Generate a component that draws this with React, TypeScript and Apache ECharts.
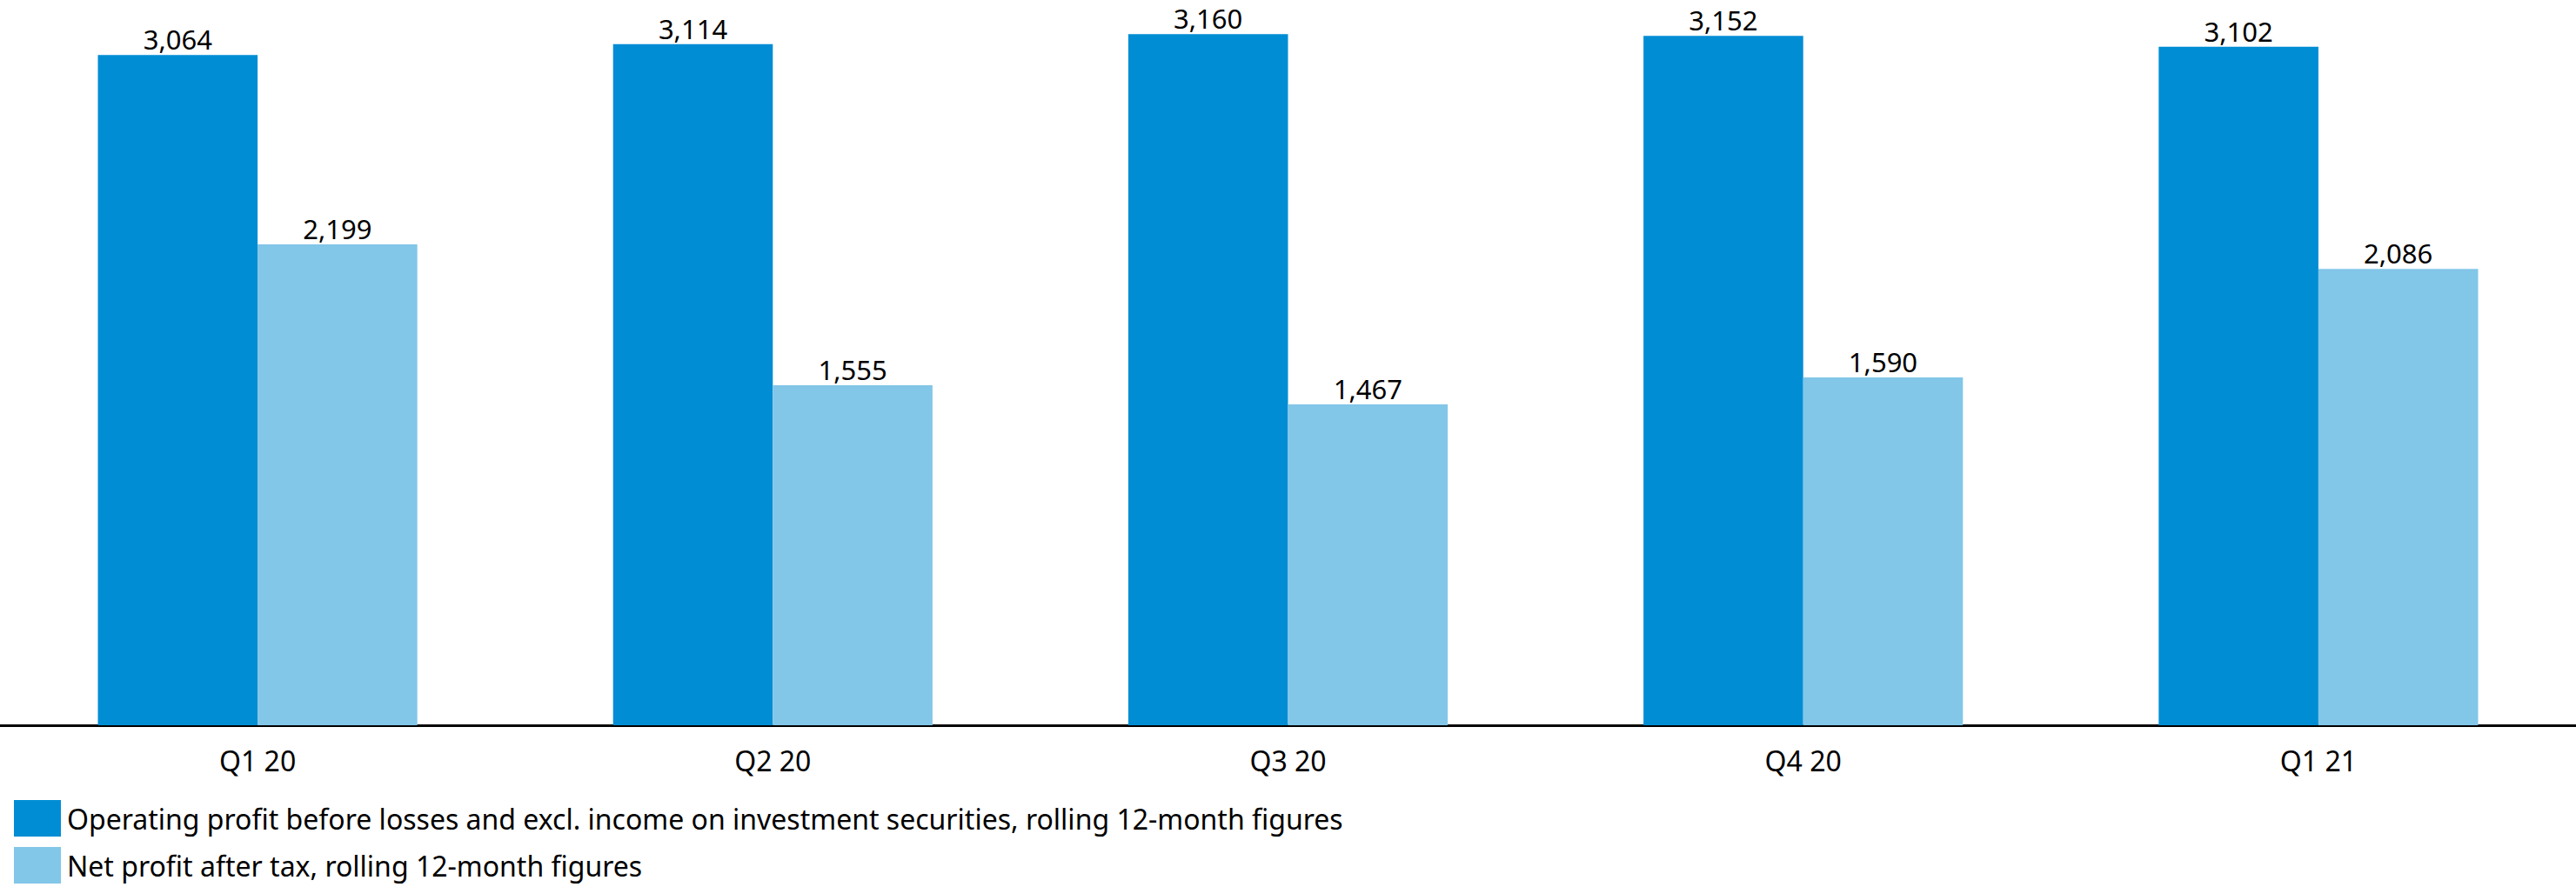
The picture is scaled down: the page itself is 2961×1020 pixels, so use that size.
import React, { useEffect, useRef } from "react";
import * as echarts from "echarts";

const categories = ["Q1 20", "Q2 20", "Q3 20", "Q4 20", "Q1 21"];
const operatingProfit = [3064, 3114, 3160, 3152, 3102];
const netProfit = [2199, 1555, 1467, 1590, 2086];
const seriesNames = [
  "Operating profit before losses and excl. income on investment securities, rolling 12-month figures",
  "Net profit after tax, rolling 12-month figures",
];
const colors = ["#008DD4", "#82C6E8"];

const FONT = "Noto Sans";
const fmt = (v: number) => v.toLocaleString("en-US");

export default function App() {
  const ref = useRef<HTMLDivElement>(null);
  useEffect(() => {
    if (!ref.current) return;
    const chart = echarts.init(ref.current, null, { renderer: "svg" });
    const label = {
      show: true,
      position: "top" as const,
      distance: 6,
      color: "#000",
      fontFamily: FONT,
      fontSize: 31,
      lineHeight: 24,
      formatter: (p: any) => fmt(p.value),
    };
    const legendBase = {
      orient: "vertical",
      left: 16,
      itemWidth: 54,
      itemHeight: 42,
      icon: "rect",
      padding: 0,
      textStyle: {
        fontFamily: FONT,
        fontSize: 32,
        lineHeight: 36,
        color: "#000",
        padding: [0, 0, 0, 2],
      },
    };
    chart.setOption({
      animation: false,
      backgroundColor: "#fff",
      color: colors,
      grid: { left: 0, right: 0, top: 4, bottom: 1020 - 834, containLabel: false },
      legend: [
        { ...legendBase, top: 920, data: [seriesNames[0]] },
        { ...legendBase, top: 974, data: [seriesNames[1]] },
      ],
      xAxis: {
        type: "category",
        data: categories,
        axisLine: { show: true, lineStyle: { color: "#000", width: 3 } },
        axisTick: { show: false },
        axisLabel: { color: "#000", fontFamily: FONT, fontSize: 32, margin: 24 },
      },
      yAxis: {
        type: "value",
        min: 0,
        max: 3300,
        show: false,
        splitLine: { show: false },
      },
      series: [
        {
          name: seriesNames[0],
          type: "bar",
          data: operatingProfit,
          barGap: "0%",
          barCategoryGap: "38%",
          itemStyle: { color: colors[0] },
          label,
        },
        {
          name: seriesNames[1],
          type: "bar",
          data: netProfit,
          barGap: "0%",
          barCategoryGap: "38%",
          itemStyle: { color: colors[1] },
          label,
        },
      ],
    });
    return () => chart.dispose();
  }, []);
  return (
    <div
      ref={ref}
      style={{ position: "fixed", left: 0, top: 0, width: 2961, height: 1020 }}
    />
  );
}
